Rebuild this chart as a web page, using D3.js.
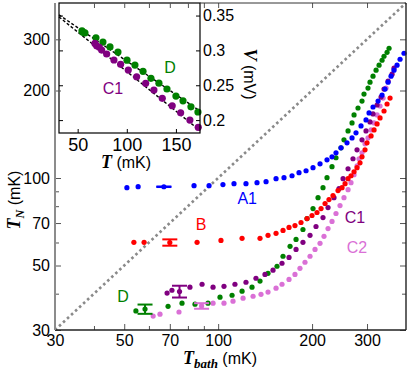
<!DOCTYPE html>
<html>
<head>
<meta charset="utf-8">
<script src="https://cdn.jsdelivr.net/npm/d3@7"></script>
<style>
  body { margin: 0; background: #fff; }
  text { font-family: "Liberation Sans", Arial, sans-serif; }
</style>
</head>
<body>
<div id="chart"></div>
<script>
// main panel data: T_bath (mK) vs T_N (mK)
var a1Tbath = [51, 55.4, 83.7, 93.5, 103.6, 112.4, 122.8, 133.2, 142.4, 153.3, 162.6, 172.5, 181.6, 191.3, 201.4, 212.1, 223.3, 231.7, 238.6, 247.6, 258.8, 268.6, 276.6, 287, 297.8, 304.5, 313.6, 325.5, 335.2, 342.7, 350.4, 358.2, 366.1, 374.4, 382.8, 394.2];
var a1TN = [92.6, 93.4, 94.1, 94.1, 94.9, 95.6, 95.6, 96.4, 97.1, 99.5, 100.3, 101.8, 104.3, 105.9, 108.5, 111.9, 115.5, 118.3, 122.1, 127, 132.1, 137.4, 143, 151.1, 158.4, 167.4, 175.5, 184, 192.9, 202.3, 213.7, 224, 234.9, 244.4, 256.2, 268.7];

var bTbath = [53.7, 57.9, 85.6, 102.1, 119.3, 136.2, 144.5, 153.3, 161.4, 168.7, 176.3, 184.3, 192.7, 199.9, 207.4, 213.7, 220.1, 226.6, 233.4, 242.2, 249.5, 255.1, 260.8, 266.6, 272.6, 278.7, 284.9, 289.1, 295.6, 300, 309.1, 316, 323.1, 330.3, 340.1, 347.8, 355.6];
var bTN = [60.1, 60.1, 60.1, 61, 62, 62, 63.5, 64.5, 66, 67.6, 68.6, 70.3, 72.5, 74.3, 76.1, 78.5, 81.7, 84.3, 87, 90.5, 92.6, 95.6, 99.5, 101.8, 105.1, 108.5, 112.8, 118.3, 125, 132.1, 139.6, 146.4, 153.5, 160.9, 170, 179.7, 188.4];

var c1Tbath = [68.6, 71.1, 81.2, 88.8, 96.3, 104.4, 113.2, 122.8, 132.2, 141.3, 149.9, 160.2, 168.7, 177.7, 187, 197, 205.9, 216.8, 225, 235.1, 244, 251.4, 260.8, 270.5, 278.7, 289.1, 297.8, 306.7, 313.6, 323.1, 332.7, 340.1, 350.4, 360.9, 366.1];
var c1TN = [40.2, 41.1, 42.1, 43.1, 42.1, 42.4, 43.1, 43.8, 45.2, 46.6, 48.2, 50.9, 53.3, 56.8, 60.1, 63.5, 68.1, 73.1, 79.1, 85.6, 91.9, 99.5, 107.6, 116.5, 125, 135.3, 145.2, 155.9, 166.1, 178.3, 189.9, 202.3, 215.4, 227.6, 238.7];

var c2Tbath = [61.9, 65.1, 74.9, 96.3, 104.4, 111.6, 120.2, 129.4, 137.2, 144.5, 153.3, 160.2, 168.7, 176.3, 182.9, 189.8, 197, 204.4, 212.1, 218.4, 225, 231.7, 238.6, 245.8, 253.1, 260.8, 266.6, 272.6, 278.7, 282.8, 289.1, 295.6, 302.2, 309.1, 316, 323.1, 330.3, 337.9, 345.3];
var c2TN = [33.5, 34, 34.6, 37.1, 37.1, 37.7, 38.6, 39.2, 39.8, 40.5, 41.8, 43.1, 44.8, 46.6, 48.9, 51.3, 53.8, 56.8, 59.6, 63, 67, 70.9, 75.5, 80.4, 85.6, 91.2, 96.4, 102.6, 110.2, 116.5, 122.1, 131.1, 137.4, 146.4, 154.7, 164.8, 176.9, 188.4, 203.9];

var dTbath = [54.5, 69.1, 76.6, 84.3, 92.8, 101.4, 110.8, 119.3, 128.4, 136.2, 144.5, 154.4, 161.4, 170, 177.7, 187, 192.7, 201.4, 209, 216.8, 223.3, 231.7, 238.6, 247.6, 253.1, 260.8, 268.6, 272.6, 280.7, 289.1, 293.4, 302.2, 306.7, 313.6, 320.7, 327.9, 335.2, 340.1, 347.8, 353];
var dTN = [34.9, 36.2, 37.1, 36.8, 37.1, 38.9, 39.5, 40.8, 42.1, 44.2, 47, 49.7, 53.8, 58.2, 61.5, 66.5, 72.5, 78.5, 85.6, 92.6, 100.3, 109.4, 117.4, 127, 135.3, 145.2, 154.7, 164.8, 174.1, 184, 194.4, 203.9, 213.7, 224, 234.9, 244.4, 254.2, 262.3, 270.7, 279.5];

// one error bar per sample
var errName = ["A1", "B", "C1", "C2", "D"];
var errTbath = [67, 70, 75.2, 88.5, 58.3];
var errTN = [93.3, 60, 40.7, 36.3, 35.4];
var errDelta = [0.2, 1.5, 1.9, 0.8, 1.3];

// sample label positions (data coords)
var labelName = ["A1", "B", "C1", "C2", "D"];
var labelTbath = [123.9, 88.1, 274.6, 278.7, 49.6];
var labelTN = [84.9, 69.2, 73.1, 57.7, 39.2];

var xTicks = [30, 50, 70, 100, 200, 300];
var xMinor = [40, 60, 80, 90];
var yTicks = [30, 50, 70, 100, 200, 300];
var yMinor = [40, 60, 80, 90];

// inset data: T (mK) vs V (mV)
var insetDT = [54.4, 55.4, 57.4, 68.6, 75.7, 82.9, 91, 100.2, 108.3, 116.5, 124.6, 132.7, 140.9, 150, 157.2, 165.3, 172.4];
var insetDV = [0.328, 0.326, 0.325, 0.318, 0.312, 0.305, 0.2976, 0.286, 0.279, 0.270, 0.260, 0.253, 0.2446, 0.2345, 0.2277, 0.219, 0.2116];
var insetC1T = [67.6, 69.3, 72, 74.4, 79.5, 86.9, 93.7, 101.5, 110, 119.2, 127.6, 136.1, 146.2, 154.8, 164.2, 172.7];
var insetC1V = [0.310, 0.3067, 0.3044, 0.3005, 0.2948, 0.2862, 0.280, 0.2718, 0.2622, 0.2527, 0.2432, 0.2312, 0.2206, 0.2105, 0.2001, 0.1896];
var fitDT = [31, 174.5], fitDV = [0.351, 0.213];
var fitC1T = [31, 174.5], fitC1V = [0.348, 0.185];
var insetXTicks = [50, 100, 150];
var insetYTicks = [0.2, 0.25, 0.3, 0.35];

var colors = { A1: "#0000ff", B: "#ff0000", C1: "#800080", C2: "#da70d6", D: "#008000" };

var svgWidth = 415, svgHeight = 376;
var svg = d3.select("#chart").append("svg")
  .attr("width", svgWidth)
  .attr("height", svgHeight);

var mLeft = 55, mRight = 406, mTop = 3, mBottom = 330;

var x = d3.scaleLog().domain([30, 400]).range([mLeft, mRight]);
var y = d3.scaleLog().domain([30, 400]).range([mBottom, mTop]);

// diagonal T_N = T_bath
svg.append("line")
  .attr("x1", x(30)).attr("y1", y(30))
  .attr("x2", x(400)).attr("y2", y(400))
  .attr("stroke", "#8a8a8a")
  .attr("stroke-width", 2.6)
  .attr("stroke-dasharray", "2.6 2.9");

var series = [
  { name: "C2", t: c2Tbath, v: c2TN },
  { name: "D", t: dTbath, v: dTN },
  { name: "C1", t: c1Tbath, v: c1TN },
  { name: "B", t: bTbath, v: bTN },
  { name: "A1", t: a1Tbath, v: a1TN }
];

series.forEach(function (s) {
  svg.append("g").selectAll("circle")
    .data(s.t)
    .enter()
    .append("circle")
    .attr("cx", d => x(d))
    .attr("cy", (d, i) => y(s.v[i]))
    .attr("r", 2.6)
    .attr("fill", colors[s.name]);
});

// error bars
var eb = svg.append("g");
errName.forEach(function (n, i) {
  var cx = x(errTbath[i]);
  var y1 = y(errTN[i] + errDelta[i]), y2 = y(errTN[i] - errDelta[i]);
  var c = colors[n];
  eb.append("line").attr("x1", cx).attr("x2", cx).attr("y1", y1).attr("y2", y2)
    .attr("stroke", c).attr("stroke-width", 2);
  [y1, y2].forEach(function (yy) {
    eb.append("line").attr("x1", cx - 7.5).attr("x2", cx + 7.5).attr("y1", yy).attr("y2", yy)
      .attr("stroke", c).attr("stroke-width", 2);
  });
  eb.append("circle").attr("cx", cx).attr("cy", y(errTN[i])).attr("r", 2.6).attr("fill", c);
});

// sample labels
labelName.forEach(function (n, i) {
  svg.append("text")
    .attr("x", x(labelTbath[i]))
    .attr("y", y(labelTN[i]))
    .attr("text-anchor", "middle")
    .attr("dominant-baseline", "central")
    .attr("font-size", 16)
    .attr("fill", colors[n])
    .text(n);
});

// ---------- inset ----------
var ix = d3.scaleLinear().domain([31, 174.5]).range([59, 200]);
var iy = d3.scaleLinear().domain([0.1815, 0.368]).range([133, 3]);

var inset = svg.append("g");
inset.append("rect")
  .attr("x", 59).attr("y", 3).attr("width", 141).attr("height", 130)
  .attr("fill", "#fff");

var fitLine = d3.line().x(d => ix(d[0])).y(d => iy(d[1]));
[[fitDT, fitDV], [fitC1T, fitC1V]].forEach(function (f) {
  inset.append("path")
    .attr("d", fitLine(f[0].map((t, i) => [t, f[1][i]])))
    .attr("fill", "none")
    .attr("stroke", "#000")
    .attr("stroke-width", 1.4)
    .attr("stroke-dasharray", "3 2");
});

inset.append("g").selectAll("circle")
  .data(insetDT).enter().append("circle")
  .attr("cx", d => ix(d))
  .attr("cy", (d, i) => iy(insetDV[i]))
  .attr("r", 3.6)
  .attr("fill", colors.D);

inset.append("g").selectAll("circle")
  .data(insetC1T).enter().append("circle")
  .attr("cx", d => ix(d))
  .attr("cy", (d, i) => iy(insetC1V[i]))
  .attr("r", 3.6)
  .attr("fill", colors.C1);

inset.append("text").attr("x", ix(143.9)).attr("y", iy(0.2761))
  .attr("text-anchor", "middle").attr("dominant-baseline", "central")
  .attr("font-size", 16).attr("fill", colors.D).text("D");
inset.append("text").attr("x", ix(85.9)).attr("y", iy(0.246))
  .attr("text-anchor", "middle").attr("dominant-baseline", "central")
  .attr("font-size", 16).attr("fill", colors.C1).text("C1");

// inset axes
var ixAxis = inset.append("g").attr("transform", "translate(0,133)")
  .call(d3.axisBottom(ix).tickValues(insetXTicks).tickSize(-4).tickPadding(5));
var iyAxis = inset.append("g").attr("transform", "translate(200,0)")
  .call(d3.axisRight(iy).tickValues(insetYTicks).tickFormat(d3.format("")).tickSize(-4).tickPadding(3));
inset.append("g").attr("transform", "translate(59,0)")
  .call(d3.axisLeft(iy).tickValues(insetYTicks).tickFormat("").tickSize(-4));
ixAxis.selectAll("text").attr("font-size", 18);
iyAxis.selectAll("text").attr("font-size", 16);
[ixAxis, iyAxis].forEach(function (g) {
  g.selectAll("text").attr("fill", "#000")
    .attr("font-family", "Liberation Sans, Arial, sans-serif");
});
inset.selectAll(".domain").remove();
inset.selectAll(".tick line").attr("stroke", "#000");

inset.append("rect")
  .attr("x", 59).attr("y", 3).attr("width", 141).attr("height", 130)
  .attr("fill", "none").attr("stroke", "#000").attr("stroke-width", 1.2);

// inset axis titles
var itx = inset.append("text").attr("x", 126).attr("y", 168).attr("text-anchor", "middle").attr("font-size", 16);
itx.append("tspan").attr("font-family", "Liberation Serif, serif").attr("font-style", "italic")
  .attr("font-weight", "bold").attr("font-size", 18).text("T");
itx.append("tspan").text(" (mK)");

var ity = inset.append("text").attr("transform", "translate(244,74) rotate(90)")
  .attr("text-anchor", "middle").attr("font-size", 16);
ity.append("tspan").attr("font-family", "Liberation Serif, serif").attr("font-style", "italic")
  .attr("font-weight", "bold").attr("font-size", 18).text("V");
ity.append("tspan").text(" (mV)");

// ---------- main axes & frame ----------
function styleAxis(g) {
  g.select(".domain").remove();
  g.selectAll(".tick line").attr("stroke", "#555").attr("stroke-width", 1);
  g.selectAll("text").attr("font-size", 16).attr("fill", "#000")
    .attr("font-family", "Liberation Sans, Arial, sans-serif");
}

svg.append("g").attr("transform", `translate(0,${mBottom})`)
  .call(d3.axisBottom(x).tickValues(xTicks).tickFormat(d3.format("")).tickSize(-6).tickPadding(5))
  .call(styleAxis);
svg.append("g").attr("transform", `translate(0,${mBottom})`)
  .call(d3.axisBottom(x).tickValues(xMinor).tickFormat("").tickSize(-4))
  .call(styleAxis);
svg.append("g").attr("transform", `translate(0,${mTop})`)
  .call(d3.axisTop(x).tickValues(xTicks.concat(xMinor)).tickFormat("").tickSize(-5))
  .call(styleAxis);

svg.append("g").attr("transform", `translate(${mLeft},0)`)
  .call(d3.axisLeft(y).tickValues(yTicks).tickFormat(d3.format("")).tickSize(-6).tickPadding(5))
  .call(styleAxis);
svg.append("g").attr("transform", `translate(${mLeft},0)`)
  .call(d3.axisLeft(y).tickValues(yMinor).tickFormat("").tickSize(-4))
  .call(styleAxis);
svg.append("g").attr("transform", `translate(${mRight},0)`)
  .call(d3.axisRight(y).tickValues(yTicks).tickFormat("").tickSize(-6))
  .call(styleAxis);
svg.append("g").attr("transform", `translate(${mRight},0)`)
  .call(d3.axisRight(y).tickValues(yMinor).tickFormat("").tickSize(-4))
  .call(styleAxis);

// frame
svg.append("line").attr("x1", 200).attr("x2", mRight).attr("y1", mTop).attr("y2", mTop)
  .attr("stroke", "#333").attr("stroke-width", 1);
svg.append("line").attr("x1", mRight).attr("x2", mRight).attr("y1", mTop).attr("y2", mBottom)
  .attr("stroke", "#222").attr("stroke-width", 1.4);
svg.append("line").attr("x1", mLeft).attr("x2", mRight).attr("y1", mBottom).attr("y2", mBottom)
  .attr("stroke", "#222").attr("stroke-width", 1.6);
svg.append("line").attr("x1", mLeft).attr("x2", mLeft).attr("y1", mTop).attr("y2", mBottom)
  .attr("stroke", "#8c8c8c").attr("stroke-width", 2);

// axis titles
var xt = svg.append("text").attr("x", 220).attr("y", 364).attr("text-anchor", "middle").attr("font-size", 16);
xt.append("tspan").attr("font-family", "Liberation Serif, serif").attr("font-style", "italic")
  .attr("font-weight", "bold").attr("font-size", 18).text("T");
xt.append("tspan").attr("font-family", "Liberation Serif, serif").attr("font-style", "italic")
  .attr("font-weight", "bold").attr("font-size", 13).attr("dy", 4).text("bath");
xt.append("tspan").attr("dy", -4).text(" (mK)");

var yt = svg.append("text").attr("transform", "translate(20,200) rotate(-90)")
  .attr("text-anchor", "middle").attr("font-size", 16);
yt.append("tspan").attr("font-family", "Liberation Serif, serif").attr("font-style", "italic")
  .attr("font-weight", "bold").attr("font-size", 18).text("T");
yt.append("tspan").attr("font-family", "Liberation Serif, serif").attr("font-style", "italic")
  .attr("font-weight", "bold").attr("font-size", 12).attr("dy", 4).text("N");
yt.append("tspan").attr("dy", -4).text(" (mK)");
</script>
</body>
</html>
